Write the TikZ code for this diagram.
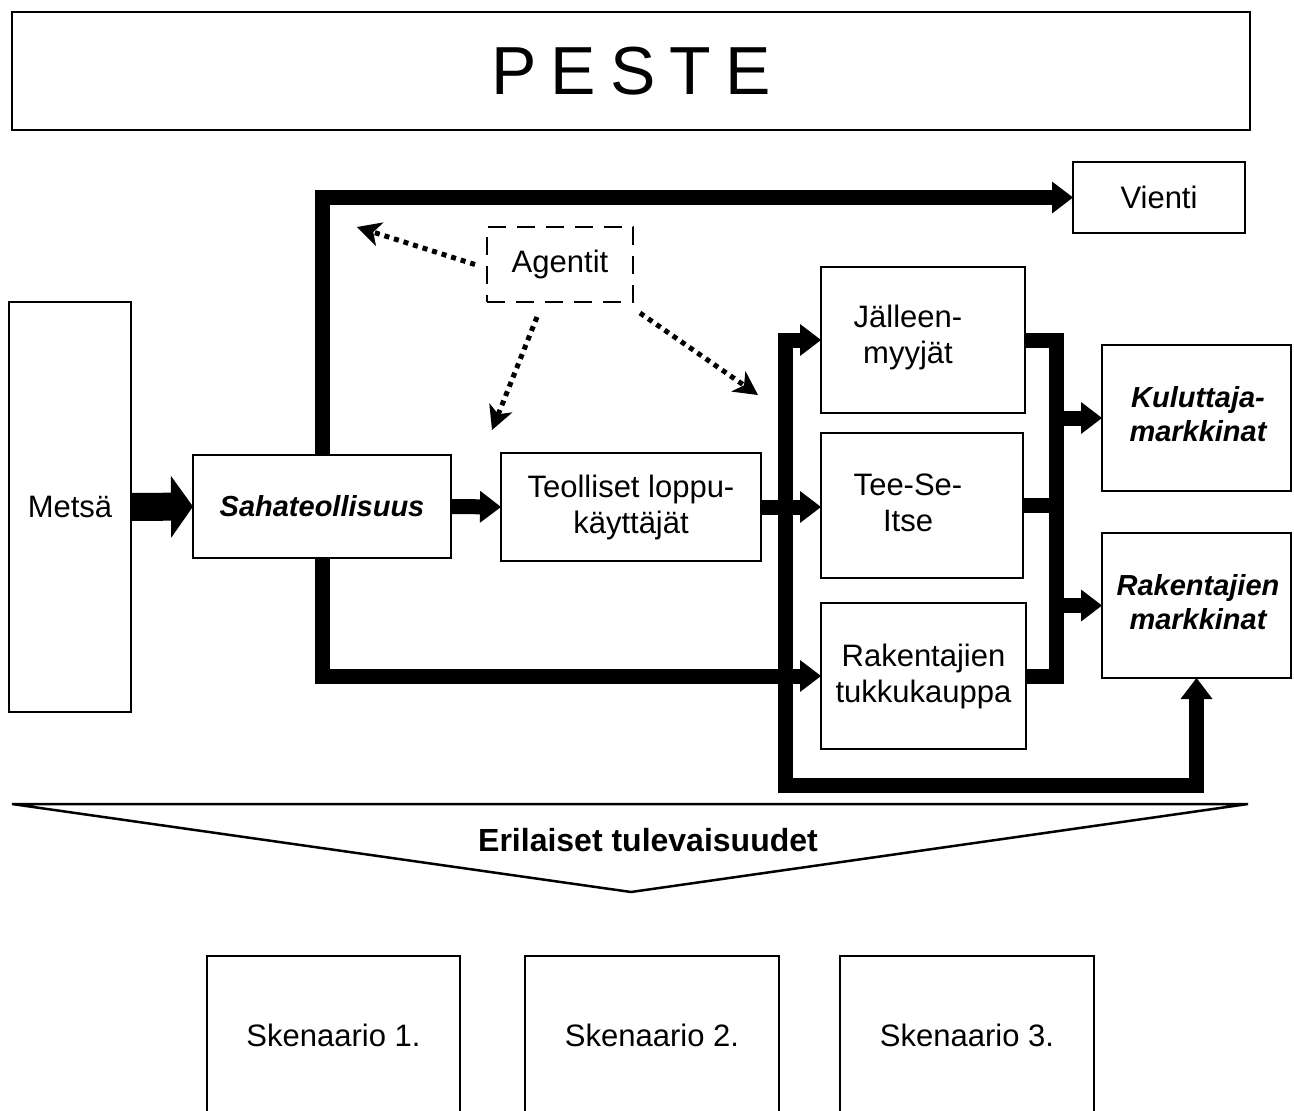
\documentclass[tikz,border=0pt]{standalone}
\usepackage{fontspec}
\setmainfont{Liberation Sans}
\usetikzlibrary{arrows.meta,calc}
\newcommand\rfont{\fontsize{31}{36}\selectfont}
\newcommand\bifont{\fontsize{29}{34}\selectfont\bfseries\itshape}
\tikzset{
  tri/.tip={Triangle[length=21pt,width=32pt,line width=0pt]},
  bigtri/.tip={Triangle[length=22pt,width=62pt,line width=0pt]},
  box/.style={draw,line width=2pt,inner sep=0pt,outer sep=0pt,align=center,font=\rfont},
  bibox/.style={box,font=\bifont},
  txt/.style={inner sep=0pt,align=center,font=\rfont},
  flow/.style={line width=15pt},
  bigflow/.style={line width=28pt},
  dotarrow/.style={line width=5pt,dash pattern=on 5pt off 5pt,-{Stealth[length=24pt,width=25pt,inset=7pt,line width=0pt]}}
}
\begin{document}
\begin{tikzpicture}[x=1pt,y=-1pt]
\useasboundingbox (0,0) rectangle (1294,1111);
\fill[white] (0,0) rectangle (1294,1111);
\clip (0,0) rectangle (1294,1111);

% boxes
\node[box,minimum width=1238pt,minimum height=118pt,font=\fontsize{68}{80}\selectfont] (peste) at (631,71) {P\hspace{14pt}E\hspace{14pt}S\hspace{14pt}T\hspace{14pt}E};
\node[box,minimum width=172pt,minimum height=71pt] (vienti) at (1159,197.5) {Vienti};
\node[box,minimum width=146pt,minimum height=75pt,dash pattern=on 18pt off 11pt] (ag) at (560,264.5) {Agentit};
\node[box,minimum width=122pt,minimum height=410pt] (metsa) at (70,507) {Metsä};
\node[bibox,minimum width=258pt,minimum height=103pt] (saha) at (322,506.5) {Sahateollisuus};
\node[box,minimum width=260pt,minimum height=108pt] (teol) at (631,507) {Teolliset loppu-\\käyttäjät};
\node[box,minimum width=204pt,minimum height=146pt] (jal) at (923,340) {};
\node[txt] (jalt) at (908,337) {Jälleen-\\myyjät};
\node[box,minimum width=202pt,minimum height=145pt] (tee) at (922,505.5) {};
\node[txt] (teet) at (908,503) {Tee-Se-\\Itse};
\node[box,minimum width=205pt,minimum height=146pt] (tukku) at (923.5,676) {Rakentajien\\tukkukauppa};
\node[bibox,minimum width=189pt,minimum height=146pt] (kul) at (1196.5,418) {};
\node[txt,font=\bifont] (kult) at (1198,414) {Kuluttaja-\\markkinat};
\node[bibox,minimum width=189pt,minimum height=145pt] (rakm) at (1196.5,605.5) {};
\node[txt,font=\bifont] (rakmt) at (1198,602) {Rakentajien\\markkinat};

% helper coordinates
\coordinate (bl) at (785,785.5);
\coordinate (rx) at (1056,0);

% thick flows
\draw[bigflow,-bigtri] (metsa.east) -- (saha.west);
\draw[flow,-tri] (saha.north) |- (vienti.west);
\draw[flow,-tri] (saha.south) |- (tukku.west);
\draw[flow,-tri] (saha.east) -- (teol.west);
\draw[flow,-tri] (teol.east) -- (teol.east -| tee.west);
\draw[flow,tri-tri] (rakm.south) |- (bl) |- (jal.west);
\draw[flow] (jal.east) -| (rx |- tukku.east) -- (tukku.east);
\draw[flow] (tee.east) -- (tee.east -| rx);
\draw[flow,-tri] (rx |- kul.west) -- (kul.west);
\draw[flow,-tri] (rx |- rakm.west) -- (rakm.west);

% dotted agent arrows
\coordinate (s1) at ($(ag.west)+(-12,0)$);
\coordinate (s2) at ($(ag.south)+(-23,15)$);
\coordinate (s3) at ($(ag.south east)+(7,11)$);
\coordinate (t1) at (357,227);
\coordinate (t2) at (492,430);
\coordinate (t3) at (758,395);
\draw[dotarrow] (s1) -- (t1);
\draw[dotarrow] (s2) -- (t2);
\draw[dotarrow] (s3) -- (t3);

% futures funnel
\draw[line width=2.5pt] (12,804) -- (1248,804) -- (631,892) -- cycle;
\node[font=\fontsize{32}{38}\selectfont\bfseries] (fut) at (648,840) {Erilaiset tulevaisuudet};

% scenarios
\node[box,minimum width=253pt,minimum height=158pt] (sc1) at (333.5,1035) {Skenaario 1.};
\node[box,minimum width=254pt,minimum height=158pt] (sc2) at (652,1035) {Skenaario 2.};
\node[box,minimum width=254pt,minimum height=158pt] (sc3) at (967,1035) {Skenaario 3.};
\end{tikzpicture}
\end{document}
